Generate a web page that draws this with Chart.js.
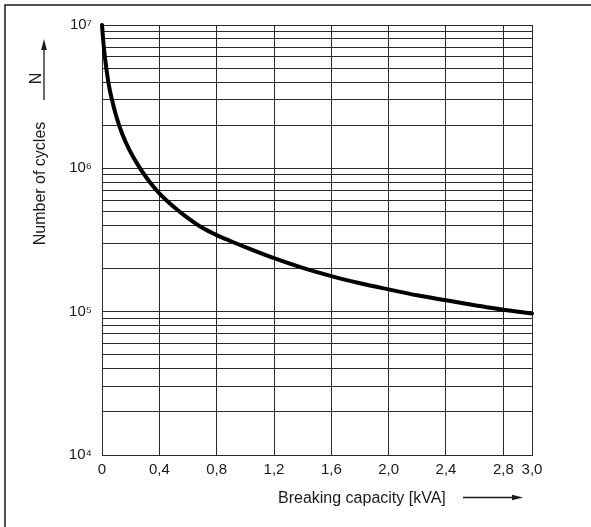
<!DOCTYPE html>
<html>
<head>
<meta charset="utf-8">
<script src="https://cdn.jsdelivr.net/npm/chart.js@4.4.0/dist/chart.umd.min.js"></script>
<style>
  html, body { margin: 0; padding: 0; background: #fff; }
  #wrap { width: 591px; height: 527px; position: relative; }
</style>
</head>
<body>
<div id="wrap"><canvas id="cyclesChart"></canvas></div>
<script>
// values
const capacity = [0, 0.01, 0.02, 0.035, 0.05, 0.07, 0.1, 0.14, 0.19, 0.26, 0.33, 0.4, 0.5, 0.6, 0.7, 0.8, 0.9, 1.0, 1.2, 1.4, 1.6, 1.8, 2.0, 2.2, 2.4, 2.6, 2.8, 3.0];
const cycles = [1e7, 7.5e6, 6e6, 4.6e6, 3.7e6, 3e6, 2.3e6, 1.75e6, 1.35e6, 1.02e6, 8.1e5, 6.7e5, 5.4e5, 4.5e5, 3.85e5, 3.42e5, 3.1e5, 2.82e5, 2.36e5, 2.02e5, 1.77e5, 1.58e5, 1.43e5, 1.3e5, 1.2e5, 1.11e5, 1.03e5, 0.97e5];

const xTicks = [0, 0.4, 0.8, 1.2, 1.6, 2.0, 2.4, 2.8, 3.0];
const xTickLabels = ['0', '0,4', '0,8', '1,2', '1,6', '2,0', '2,4', '2,8', '3,0'];
const yDecades = [1e4, 1e5, 1e6, 1e7];
const yDecadeLabels = ['10\u2074', '10\u2075', '10\u2076', '10\u2077'];

const xTitle = 'Breaking capacity [kVA]';
const yTitle = 'Number of cycles';
const yUnit = 'N';

const FONT = '"Liberation Sans", Arial, sans-serif';
const INK = '#1a1a1a';

// log grid: 1..9 in every decade
const yGrid = [];
for (let i = 0; i < yDecades.length - 1; i++) {
    for (let m = 1; m < 10; m++) yGrid.push(yDecades[i] * m);
}
yGrid.push(yDecades[yDecades.length - 1]);

function arrow(ctx, x1, y1, x2, y2) {
    const ang = Math.atan2(y2 - y1, x2 - x1);
    const len = 11, half = 2.8;
    const bx = x2 - Math.cos(ang) * len, by = y2 - Math.sin(ang) * len;
    ctx.beginPath();
    ctx.moveTo(x1, y1);
    ctx.lineTo(bx, by);
    ctx.stroke();
    ctx.beginPath();
    ctx.moveTo(x2, y2);
    ctx.lineTo(bx - Math.sin(ang) * half, by + Math.cos(ang) * half);
    ctx.lineTo(bx + Math.sin(ang) * half, by - Math.cos(ang) * half);
    ctx.closePath();
    ctx.fill();
}

const decorations = {
    id: 'decorations',
    afterDraw(chart) {
        const ctx = chart.ctx;
        ctx.save();
        ctx.strokeStyle = INK;
        ctx.fillStyle = INK;

        // frame (top and left only)
        ctx.lineWidth = 1.5;
        ctx.beginPath();
        ctx.moveTo(5, 527);
        ctx.lineTo(5, 5);
        ctx.lineTo(591, 5);
        ctx.stroke();

        ctx.font = '16px ' + FONT;
        ctx.textBaseline = 'alphabetic';
        ctx.textAlign = 'center';

        ctx.save();
        ctx.translate(45, 183.5);
        ctx.rotate(-Math.PI / 2);
        ctx.fillText(yTitle, 0, 0);
        ctx.restore();

        ctx.save();
        ctx.translate(40.5, 78.5);
        ctx.rotate(-Math.PI / 2);
        ctx.fillText(yUnit, 0, 0);
        ctx.restore();

        ctx.lineWidth = 1.3;
        arrow(ctx, 44, 100, 44, 39);

        ctx.textAlign = 'left';
        ctx.fillText(xTitle, 278, 503);
        arrow(ctx, 463, 497.5, 523, 497.5);

        ctx.restore();
    }
};

const ctx = document.getElementById('cyclesChart').getContext('2d');
new Chart(ctx, {
    type: 'line',
    data: {
        datasets: [{
            data: capacity.map((c, i) => ({ x: c, y: cycles[i] })),
            borderColor: '#000',
            borderWidth: 4,
            pointRadius: 0,
            cubicInterpolationMode: 'monotone',
            borderCapStyle: 'round',
            clip: false
        }]
    },
    options: {
        responsive: true,
        maintainAspectRatio: false,
        animation: false,
        layout: { padding: { left: 0, top: 25, right: 59, bottom: 0 } },
        plugins: { legend: { display: false }, tooltip: { enabled: false } },
        scales: {
            x: {
                type: 'linear',
                min: 0,
                max: 3,
                afterBuildTicks: scale => { scale.ticks = xTicks.map(v => ({ value: v })); },
                afterFit: scale => { scale.height = 72; },
                grid: { color: '#2a2a2a', lineWidth: 1, drawTicks: false },
                border: { color: '#2a2a2a', width: 1 },
                ticks: {
                    autoSkip: false,
                    maxRotation: 0,
                    padding: 6,
                    color: INK,
                    font: { family: FONT, size: 15 },
                    callback: (value, index) => xTickLabels[index]
                }
            },
            y: {
                type: 'logarithmic',
                min: 1e4,
                max: 1e7,
                afterBuildTicks: scale => { scale.ticks = yGrid.map(v => ({ value: v })); },
                afterFit: scale => { scale.width = 102; },
                grid: { color: '#2a2a2a', lineWidth: 1, drawTicks: false },
                border: { color: '#2a2a2a', width: 1 },
                ticks: {
                    autoSkip: false,
                    padding: 10,
                    color: INK,
                    font: { family: FONT, size: 15 },
                    callback: value => {
                        const i = yDecades.findIndex(d => Math.abs(value - d) < d * 1e-6);
                        return i >= 0 ? yDecadeLabels[i] : '';
                    }
                }
            }
        }
    },
    plugins: [decorations]
});
</script>
</body>
</html>
